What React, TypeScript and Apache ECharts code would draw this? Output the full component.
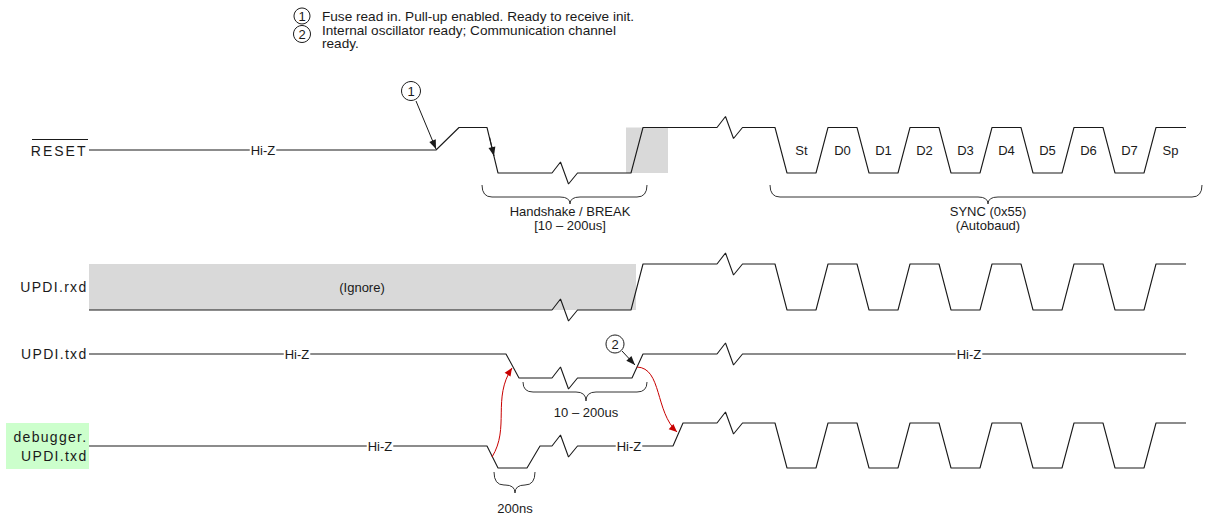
import React, { useEffect, useRef } from "react";
import * as echarts from "echarts";

type Lvl = 0 | 1 | "Z";

// ---------------- data (x = time units, y = diagram units) ----------------
const signalNames = ["RESET", "UPDI.rxd", "UPDI.txd", "debugger.", "UPDI.txd"];

// SYNC character 0x55 framed as start bit, D0..D7, stop bit
const syncBitLabels = ["St", "D0", "D1", "D2", "D3", "D4", "D5", "D6", "D7", "Sp"];
const syncBitLevels: Lvl[] = [0, 1, 0, 1, 0, 1, 0, 1, 0, 1];
const syncEdgeTimes = [775, 816, 857, 898, 939, 980, 1021, 1062, 1103, 1144];
const syncBitTime = 41;
const syncEndTime = 1186;

// waveforms as [time, level]
const resetWave: [number, Lvl][] = [[89, "Z"], [436, "Z"], [459, 1], [487, 1], [498, 0], [631, 0], [643, 1]];
const rxdWave: [number, Lvl][] = [[89, 0], [631, 0], [643, 1]];
const txdWave: [number, Lvl][] = [[89, "Z"], [506, "Z"], [519, 0], [632, 0], [643, 1], [1186, 1]];
const dbgWave: [number, Lvl][] = [[89, "Z"], [487, "Z"], [498, 0], [527, 0], [540, "Z"], [673, "Z"], [683, 1]];
const breakTimes = [552, 717];

// Hi-Z label times per signal
const resetHiZ = [263];
const txdHiZ = [297, 969];
const dbgHiZ = [380, 629];

const ignoreSpan = [89, 636];
const resetShadeSpan = [626, 668];

const noteLines = [
  "Fuse read in. Pull-up enabled. Ready to receive init.",
  "Internal oscillator ready; Communication channel",
  "ready.",
];
const braceSpans = [
  [482, 647, 570],
  [770, 1202, 988],
  [523, 647, 586],
  [494, 535, 515],
];
const braceTexts = [
  ["Handshake / BREAK", "[10 – 200us]"],
  ["SYNC (0x55)", "(Autobaud)"],
  ["10 – 200us"],
  ["200ns"],
];

// ---------------- layout & style ----------------
const W = 1206;
const H = 520;
const EDGE = 12;
const ROW = [
  { hi: 127.5, lo: 173, z: 150 },
  { hi: 264, lo: 310, z: 287 },
  { hi: 354, lo: 378, z: 354 },
  { hi: 423, lo: 468, z: 446 },
];
const BRACE_Y = [
  { top: 185, mid: 197, tip: 204, text: [211, 225] },
  { top: 185, mid: 197, tip: 204, text: [211, 225] },
  { top: 382, mid: 392, tip: 401, text: [412] },
  { top: 472, mid: 485, tip: 493, text: [508] },
];
const BREAK_GLYPH = [[0, 0], [8.5, -11], [16.5, 11], [25.5, 0]];
const FONT = "'Liberation Sans', Arial, Helvetica, sans-serif";
const INK = "#1a1a1a";
const RED = "#c80000";
const GRAY = "#d9d9d9";
const GREEN = "#ccffcc";
const LABEL_SPACING: Record<string, number> = { RESET: 2, "UPDI.rxd": 1.3, "UPDI.txd": 1.3, "debugger.": 1.3 };

function lvlY(row: number, l: Lvl) {
  const r = ROW[row];
  return l === "Z" ? r.z : l === 1 ? r.hi : r.lo;
}

function buildWave(row: number, wave: [number, Lvl][], withSync: boolean) {
  const pts: number[][] = wave.map(([t, l]) => [t, lvlY(row, l)]);
  if (withSync) {
    let prev: Lvl = 1;
    syncEdgeTimes.forEach((te, i) => {
      pts.push([te, lvlY(row, prev)]);
      pts.push([te + EDGE, lvlY(row, syncBitLevels[i])]);
      prev = syncBitLevels[i];
    });
    pts.push([syncEndTime, lvlY(row, prev)]);
  }
  const out: number[][] = [];
  for (let i = 0; i < pts.length; i++) {
    out.push(pts[i]);
    const next = pts[i + 1];
    if (!next) break;
    for (const tb of breakTimes) {
      if (tb > pts[i][0] && tb < next[0] && pts[i][1] === next[1]) {
        const y = pts[i][1];
        BREAK_GLYPH.forEach(([dx, dy]) => out.push([tb + dx, y + dy]));
      }
    }
  }
  return out;
}

function overlay(id: string, items: any[], draw: (it: any, api: any) => any, z: number) {
  return {
    type: "custom",
    id,
    z,
    silent: true,
    clip: false,
    data: items.map((_, i) => [i, 0]),
    renderItem: (params: any, api: any) => draw(items[params.dataIndex], api),
  };
}

function head(tip: number[], from: number[], color: string, len = 9, hw = 3.5) {
  const dx = tip[0] - from[0];
  const dy = tip[1] - from[1];
  const d = Math.hypot(dx, dy) || 1;
  const ux = dx / d, uy = dy / d;
  const bx = tip[0] - ux * len, by = tip[1] - uy * len;
  return {
    type: "polygon",
    shape: { points: [tip, [bx - uy * hw, by + ux * hw], [bx + uy * hw, by - ux * hw]] },
    style: { fill: color },
  };
}

function buildOption() {
  const waves = [
    buildWave(0, resetWave, true),
    buildWave(1, rxdWave, true),
    buildWave(2, txdWave, false),
    buildWave(3, dbgWave, true),
  ];

  const shades = [
    { t0: ignoreSpan[0], t1: ignoreSpan[1], y0: ROW[1].hi, y1: ROW[1].lo, fill: GRAY },
    { t0: resetShadeSpan[0], t1: resetShadeSpan[1], y0: ROW[0].hi, y1: ROW[0].lo, fill: GRAY },
    { t0: 6, t1: 89, y0: 423, y1: 469, fill: GREEN },
  ];

  const texts: any[] = [];
  resetHiZ.forEach((t) => texts.push({ t, y: ROW[0].z, text: "Hi-Z", bg: true }));
  txdHiZ.forEach((t) => texts.push({ t, y: ROW[2].z, text: "Hi-Z", bg: true }));
  dbgHiZ.forEach((t) => texts.push({ t, y: ROW[3].z, text: "Hi-Z", bg: true }));
  texts.push({ t: 362, y: 287, text: "(Ignore)" });
  syncBitLabels.forEach((s, i) =>
    texts.push({ t: syncEdgeTimes[i] + EDGE + (syncBitTime - EDGE) / 2, y: ROW[0].z, text: s })
  );
  const labelY = [151, 287, 354, 437, 456];
  signalNames.forEach((s, i) => texts.push({ t: 87.5, y: labelY[i], text: s, align: "right", size: 14 }));
  const noteY = [16, 30, 43.5];
  noteLines.forEach((s, i) => texts.push({ t: 322, y: noteY[i], text: s, align: "left", size: 13.6 }));
  braceTexts.forEach((lines, b) =>
    lines.forEach((s, j) => texts.push({ t: braceSpans[b][2], y: BRACE_Y[b].text[j], text: s }))
  );

  const braces = braceSpans.map((s, i) => ({ t0: s[0], t1: s[1], tm: s[2], ...BRACE_Y[i] }));

  const circles = [
    { t: 302, y: 16, r: 8, label: "1", size: 13 },
    { t: 302, y: 34, r: 8.5, label: "2", size: 13 },
    { t: 411, y: 91, r: 9.5, label: "1", size: 13 },
    { t: 615, y: 344, r: 9, label: "2", size: 13 },
  ];

  const arrows = [
    { from: [416, 101], to: [436, 149] },
    { from: [489.5, 137], to: [494, 156] },
    { from: [622, 351], to: [635, 365] },
  ];

  const curves = [
    { p0: [492, 457], c1: [510, 428], c2: [492, 398], p1: [512, 368] },
    { p0: [637, 367], c1: [662, 368], c2: [655, 412], p1: [677, 432] },
  ];

  const rules = [{ a: [32, 139.5], b: [88, 139.5] }];

  return {
    animation: false,
    backgroundColor: "#ffffff",
    grid: { left: 0, right: 0, top: 0, bottom: 0 },
    xAxis: { type: "value", min: 0, max: W, show: false },
    yAxis: { type: "value", min: 0, max: H, inverse: true, show: false },
    series: [
      overlay("shades", shades, (it, api) => {
        const p0 = api.coord([it.t0, it.y0]);
        const p1 = api.coord([it.t1, it.y1]);
        return {
          type: "rect",
          shape: { x: p0[0], y: p0[1], width: p1[0] - p0[0], height: p1[1] - p0[1] },
          style: { fill: it.fill },
        };
      }, 1),
      ...waves.map((d, i) => ({
        type: "line",
        id: "wave" + i,
        data: d,
        symbol: "none",
        silent: true,
        z: 2,
        lineStyle: { color: INK, width: 1.1 },
      })),
      overlay("braces", braces, (it, api) => {
        const [x0, yTop] = api.coord([it.t0, it.top]);
        const [x1] = api.coord([it.t1, it.top]);
        const [xm, yMid] = api.coord([it.tm, it.mid]);
        const yTip = api.coord([it.tm, it.tip])[1];
        const r = Math.min(10, (xm - x0) / 2, (x1 - xm) / 2);
        const st = { stroke: "#333", lineWidth: 1, fill: "none" };
        return {
          type: "group",
          children: [
            { type: "bezierCurve", shape: { x1: x0, y1: yTop, cpx1: x0, cpy1: yMid, x2: x0 + r, y2: yMid }, style: st },
            { type: "line", shape: { x1: x0 + r, y1: yMid, x2: xm - r, y2: yMid }, style: st },
            { type: "bezierCurve", shape: { x1: xm - r, y1: yMid, cpx1: xm, cpy1: yMid, x2: xm, y2: yTip }, style: st },
            { type: "bezierCurve", shape: { x1: xm, y1: yTip, cpx1: xm, cpy1: yMid, x2: xm + r, y2: yMid }, style: st },
            { type: "line", shape: { x1: xm + r, y1: yMid, x2: x1 - r, y2: yMid }, style: st },
            { type: "bezierCurve", shape: { x1: x1 - r, y1: yMid, cpx1: x1, cpy1: yMid, x2: x1, y2: yTop }, style: st },
          ],
        };
      }, 3),
      overlay("texts", texts, (it, api) => {
        const p = api.coord([it.t, it.y]);
        return {
          type: "text",
          x: p[0],
          y: p[1],
          style: {
            text: it.text,
            fill: INK,
            fontFamily: FONT,
            fontSize: it.size || 13,
            align: it.align || "center",
            verticalAlign: "middle",
            backgroundColor: it.bg ? "#ffffff" : undefined,
            padding: it.bg ? [0, 1] : 0,
          },
        };
      }, 4),
      overlay("rules", rules, (it, api) => {
        const a = api.coord(it.a);
        const b = api.coord(it.b);
        return { type: "line", shape: { x1: a[0], y1: a[1], x2: b[0], y2: b[1] }, style: { stroke: INK, lineWidth: 1 } };
      }, 4),
      overlay("circles", circles, (it, api) => {
        const p = api.coord([it.t, it.y]);
        return {
          type: "group",
          children: [
            { type: "circle", shape: { cx: p[0], cy: p[1], r: it.r }, style: { fill: "#fff", stroke: INK, lineWidth: 1 } },
            {
              type: "text",
              x: p[0],
              y: p[1] + 0.5,
              style: { text: it.label, fill: INK, fontFamily: FONT, fontSize: it.size, align: "center", verticalAlign: "middle" },
            },
          ],
        };
      }, 5),
      overlay("arrows", arrows, (it, api) => {
        const a = api.coord(it.from);
        const b = api.coord(it.to);
        return {
          type: "group",
          children: [
            { type: "line", shape: { x1: a[0], y1: a[1], x2: b[0], y2: b[1] }, style: { stroke: INK, lineWidth: 1 } },
            head(b, a, INK),
          ],
        };
      }, 5),
      overlay("curves", curves, (it, api) => {
        const p0 = api.coord(it.p0);
        const c1 = api.coord(it.c1);
        const c2 = api.coord(it.c2);
        const p1 = api.coord(it.p1);
        return {
          type: "group",
          children: [
            {
              type: "bezierCurve",
              shape: { x1: p0[0], y1: p0[1], cpx1: c1[0], cpy1: c1[1], cpx2: c2[0], cpy2: c2[1], x2: p1[0], y2: p1[1] },
              style: { stroke: RED, lineWidth: 1, fill: "none" },
            },
            head(p1, c2, RED, 8, 3.5),
          ],
        };
      }, 5),
    ],
  };
}

export default function App() {
  const ref = useRef<HTMLDivElement>(null);
  useEffect(() => {
    const el = ref.current!;
    const chart = echarts.init(el, null, { renderer: "svg" });
    const applySpacing = () => {
      el.querySelectorAll("text").forEach((t) => {
        const s = (t.textContent || "").trim();
        const ls = LABEL_SPACING[s];
        if (ls !== undefined) t.setAttribute("letter-spacing", String(ls));
      });
    };
    chart.on("finished", applySpacing);
    chart.setOption(buildOption() as any);
    applySpacing();
    const timer = setTimeout(applySpacing, 30);
    return () => {
      clearTimeout(timer);
      chart.dispose();
    };
  }, []);
  return (
    <div
      ref={ref}
      style={{ position: "absolute", left: 0, top: 0, width: W, height: H, background: "#fff" }}
    />
  );
}
